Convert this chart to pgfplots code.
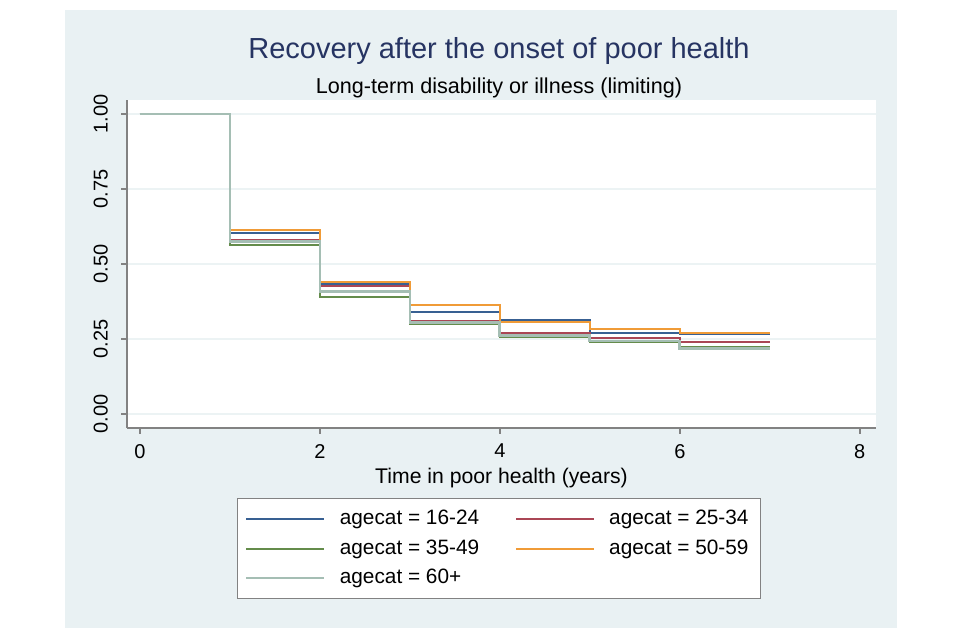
\documentclass[border=0pt]{standalone}
\usepackage{pgfplots}
\pgfplotsset{compat=1.18}
\usepackage{fontspec}
\setmainfont{Liberation Sans}
\definecolor{panel}{RGB}{233,241,243}
\definecolor{gridc}{RGB}{236,243,244}
\definecolor{titlec}{RGB}{38,52,98}
\definecolor{axc}{RGB}{130,130,130}
\definecolor{c1}{RGB}{56,96,146}
\definecolor{c2}{RGB}{170,70,85}
\definecolor{c3}{RGB}{100,140,75}
\definecolor{c4}{RGB}{240,155,55}
\definecolor{c5}{RGB}{165,190,180}
\begin{document}
\begin{tikzpicture}
% 1 px = 0.5pt, page 960x640 px
\fill[white] (0,0) rectangle (480pt,320pt);
\fill[panel] (32.5pt,6pt) rectangle (448.5pt,315pt);
\node[text=titlec,font=\fontsize{14.5}{16}\selectfont] at (249.5pt,294.5pt) {Recovery after the onset of poor health};
\node[font=\fontsize{10.8}{12}\selectfont] at (249.5pt,276pt) {Long-term disability or illness (limiting)};
\begin{axis}[
at={(63.5pt,106pt)}, anchor=south west,
width=374.5pt, height=164pt,
scale only axis,
axis background/.style={fill=white},
xmin=-0.144, xmax=8.18,
ymin=-0.047, ymax=1.047,
axis x line*=bottom, axis y line*=left,
axis line style={-,axc,line width=0.8pt},
tick style={axc,line width=0.8pt},
tick align=outside,
major tick length=3pt,
xtick={0,2,4,6,8},
ytick={0,0.25,0.5,0.75,1},
yticklabels={0.00,0.25,0.50,0.75,1.00},
yticklabel style={rotate=90,anchor=south,font=\fontsize{10}{12}\selectfont},
yticklabel shift=3pt,
xticklabel shift=1.5pt,
xticklabel style={font=\fontsize{10}{12}\selectfont},
/pgf/number format/assume math mode=true,
ymajorgrids,
grid style={gridc,line width=0.8pt},
xlabel={Time in poor health (years)},
xlabel style={font=\fontsize{10.6}{12}\selectfont, yshift=2pt},
legend columns=2,
legend style={at={(0.4964,-0.213)},anchor=north,draw=axc,fill=white,
  font=\fontsize{10.4}{12}\selectfont,legend cell align=left,
  inner xsep=4pt,inner ysep=4pt,row sep=2pt},
/tikz/every odd column/.append style={column sep=5pt},
/tikz/every even column/.append style={column sep=16pt},
legend image code/.code={\draw[#1] (0pt,0pt) -- (39pt,0pt);},
every axis plot/.append style={const plot mark left, line width=1pt, no marks},
]
\addplot[c1] coordinates {(0,1) (1,0.604) (2,0.433) (3,0.341) (4,0.313) (5,0.269) (6,0.266) (7,0.266)};
\addlegendentry{agecat = 16-24}
\addplot[c2] coordinates {(0,1) (1,0.580) (2,0.427) (3,0.311) (4,0.271) (5,0.252) (6,0.241) (7,0.241)};
\addlegendentry{agecat = 25-34}
\addplot[c3] coordinates {(0,1) (1,0.563) (2,0.389) (3,0.300) (4,0.256) (5,0.239) (6,0.224) (7,0.224)};
\addlegendentry{agecat = 35-49}
\addplot[c4] coordinates {(0,1) (1,0.613) (2,0.439) (3,0.363) (4,0.306) (5,0.283) (6,0.271) (7,0.271)};
\addlegendentry{agecat = 50-59}
\addplot[c5, line width=1.4pt] coordinates {(0,1) (1,0.575) (2,0.408) (3,0.304) (4,0.262) (5,0.243) (6,0.219) (7,0.219)};
\addlegendentry{agecat = 60+}
\end{axis}
\end{tikzpicture}
\end{document}
